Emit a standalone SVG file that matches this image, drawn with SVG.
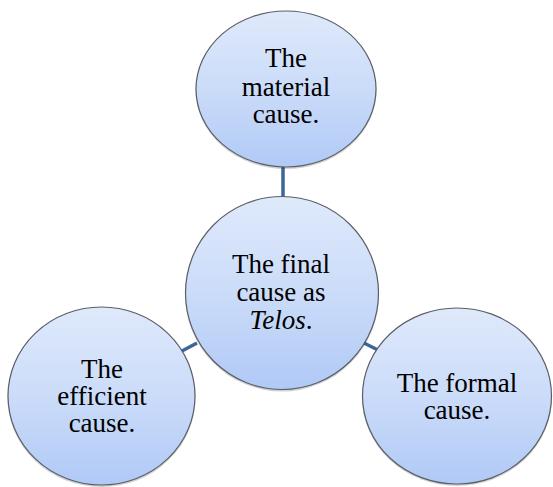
<svg xmlns="http://www.w3.org/2000/svg" width="553" height="487" viewBox="0 0 553 487">
<defs>
<linearGradient id="g" x1="0" y1="0" x2="0" y2="1">
<stop offset="0" stop-color="#dfe9fb"/>
<stop offset="0.5" stop-color="#cbdcf9"/>
<stop offset="1" stop-color="#b0c9f6"/>
</linearGradient>
</defs>
<style>
.n{fill:url(#g);stroke:#5a5f66;stroke-width:1.2}
.s{fill:#000;fill-opacity:0.18}
.t{font-family:"Liberation Serif",serif;font-size:27px;text-anchor:middle}
.c{stroke:#3c6699;stroke-width:3.5;fill:none}
</style>
<rect width="553" height="487" fill="#fff"/>
<g id="connectors">
<line class="c" x1="283" y1="166" x2="283" y2="198"/>
<line class="c" x1="181" y1="351.5" x2="197" y2="343"/>
<line class="c" x1="364" y1="343" x2="378" y2="350"/>
</g>
<g id="material">
<ellipse class="s" cx="286" cy="90.5" rx="90.5" ry="78.5"/>
<ellipse class="n" cx="286" cy="89" rx="90" ry="78"/>
<text class="t" style="font-family:'Liberation Serif',serif" x="286" y="67">The<tspan x="286" dy="28.5">material</tspan><tspan x="286" dy="27.5">cause.</tspan></text>
</g>
<g id="final">
<circle class="s" cx="282" cy="294.5" r="97"/>
<circle class="n" cx="282" cy="293" r="96.5"/>
<text class="t" style="font-family:'Liberation Serif',serif" x="281" y="273">The final<tspan x="281" dy="28">cause as</tspan><tspan x="281" dy="27.5"><tspan font-style="italic">Telos</tspan>.</tspan></text>
</g>
<g id="efficient">
<ellipse class="s" cx="101.5" cy="397.5" rx="94" ry="89.5"/>
<ellipse class="n" cx="101.5" cy="396" rx="93.5" ry="89"/>
<text class="t" style="font-family:'Liberation Serif',serif" x="102" y="378">The<tspan x="102" dy="27">efficient</tspan><tspan x="102" dy="27">cause.</tspan></text>
</g>
<g id="formal">
<ellipse class="s" cx="457" cy="397.5" rx="95" ry="88.5"/>
<ellipse class="n" cx="457" cy="396" rx="94.5" ry="88"/>
<text class="t" style="font-family:'Liberation Serif',serif" x="457" y="392">The formal<tspan x="457" dy="26.5">cause.</tspan></text>
</g>
</svg>
